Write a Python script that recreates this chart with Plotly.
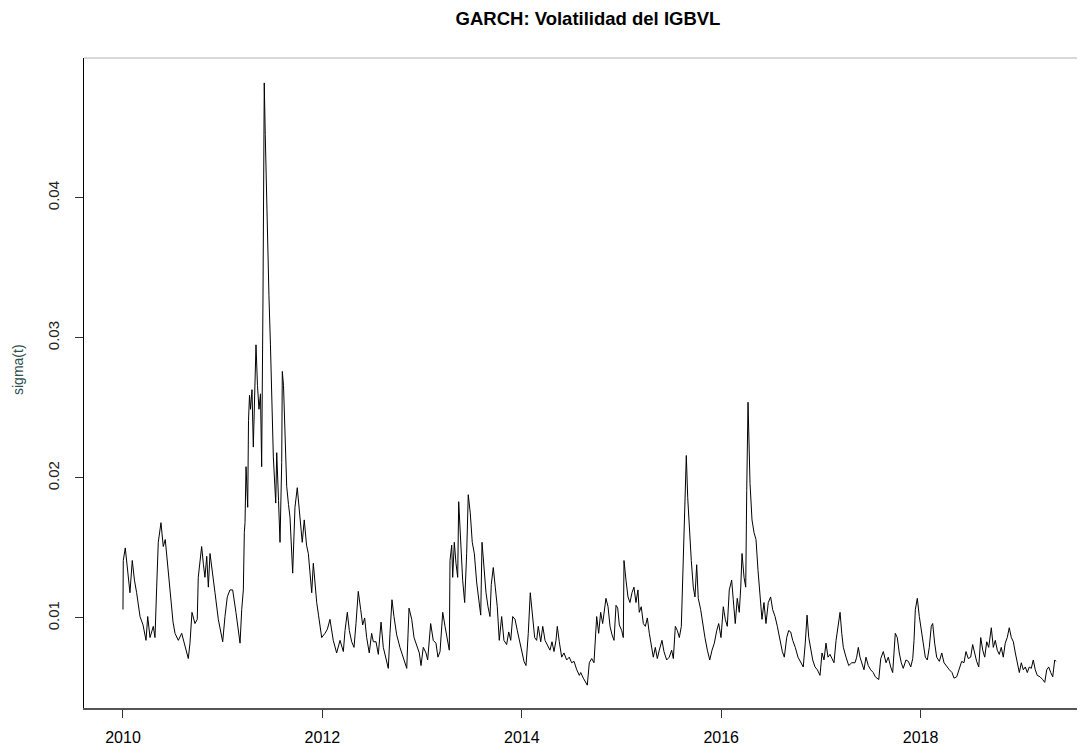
import plotly.graph_objects as go

# Time index (decimal years) and conditional volatility sigma(t)
years = [
    2010.000, 2010.003, 2010.023, 2010.050, 2010.070, 2010.093, 2010.115, 2010.137, 2010.171, 2010.201,
    2010.231, 2010.248, 2010.271, 2010.304, 2010.321, 2010.338, 2010.354, 2010.381, 2010.404, 2010.424,
    2010.444, 2010.461, 2010.481, 2010.502, 2010.522, 2010.555, 2010.589, 2010.622, 2010.655, 2010.672,
    2010.692, 2010.722, 2010.745, 2010.755, 2010.789, 2010.807, 2010.822, 2010.840, 2010.856, 2010.873,
    2010.900, 2010.923, 2010.956, 2011.000, 2011.023, 2011.046, 2011.073, 2011.100, 2011.133, 2011.174,
    2011.191, 2011.207, 2011.217, 2011.224, 2011.234, 2011.251, 2011.259, 2011.269, 2011.279, 2011.294,
    2011.307, 2011.319, 2011.334, 2011.349, 2011.364, 2011.379, 2011.391, 2011.404, 2011.417, 2011.427,
    2011.439, 2011.449, 2011.464, 2011.479, 2011.491, 2011.508, 2011.532, 2011.542, 2011.560, 2011.575,
    2011.592, 2011.598, 2011.610, 2011.625, 2011.642, 2011.660, 2011.675, 2011.702, 2011.715, 2011.725,
    2011.748, 2011.770, 2011.798, 2011.818, 2011.841, 2011.859, 2011.876, 2011.893, 2011.909, 2011.926,
    2011.943, 2011.961, 2011.976, 2011.993, 2012.026, 2012.050,
    2012.076, 2012.109, 2012.143, 2012.177, 2012.210, 2012.227, 2012.250, 2012.270, 2012.294, 2012.317,
    2012.337, 2012.360, 2012.384, 2012.404, 2012.424, 2012.444, 2012.470, 2012.494, 2012.511, 2012.538,
    2012.561, 2012.588, 2012.611, 2012.638, 2012.661, 2012.678, 2012.698, 2012.718, 2012.745, 2012.778,
    2012.811, 2012.846, 2012.869, 2012.896, 2012.919, 2012.946, 2012.972, 2012.989, 2013.012, 2013.039,
    2013.056, 2013.086, 2013.112, 2013.139, 2013.159, 2013.180, 2013.207, 2013.230, 2013.253, 2013.273,
    2013.280, 2013.297, 2013.307, 2013.323, 2013.340, 2013.357, 2013.367, 2013.387, 2013.407, 2013.427,
    2013.447, 2013.463, 2013.483, 2013.503, 2013.524, 2013.548, 2013.568, 2013.588, 2013.601, 2013.621,
    2013.641, 2013.661, 2013.681, 2013.694, 2013.714, 2013.734, 2013.754, 2013.774, 2013.798, 2013.821,
    2013.848, 2013.869, 2013.889, 2013.909, 2013.932, 2013.955, 2013.975, 2013.999, 2014.022, 2014.042,
    2014.065, 2014.085, 2014.105, 2014.129, 2014.149, 2014.165, 2014.190, 2014.210, 2014.233, 2014.256,
    2014.283, 2014.303, 2014.323, 2014.343, 2014.356, 2014.376, 2014.400, 2014.423, 2014.450, 2014.476,
    2014.500, 2014.524, 2014.551, 2014.577,
    2014.591, 2014.617, 2014.644, 2014.657, 2014.677, 2014.701, 2014.724, 2014.737, 2014.751, 2014.771,
    2014.791, 2014.811, 2014.831, 2014.844, 2014.865, 2014.885, 2014.905, 2014.925, 2014.945, 2014.962,
    2014.978, 2015.002, 2015.018, 2015.025, 2015.045, 2015.065, 2015.085, 2015.105, 2015.125, 2015.145,
    2015.165, 2015.178, 2015.198, 2015.219, 2015.239, 2015.259, 2015.279, 2015.299, 2015.319, 2015.339,
    2015.359, 2015.379, 2015.406, 2015.426, 2015.453, 2015.479, 2015.503, 2015.520, 2015.540, 2015.560,
    2015.580, 2015.600, 2015.614, 2015.627, 2015.640, 2015.650, 2015.664, 2015.680, 2015.700, 2015.720,
    2015.737, 2015.754, 2015.770, 2015.794, 2015.814, 2015.837, 2015.861, 2015.885, 2015.908, 2015.931,
    2015.955, 2015.975, 2015.998, 2016.021, 2016.041, 2016.061, 2016.081, 2016.105, 2016.121, 2016.141,
    2016.161, 2016.181, 2016.196, 2016.209, 2016.229, 2016.246, 2016.256, 2016.269, 2016.289, 2016.309,
    2016.329, 2016.349, 2016.369, 2016.389, 2016.409, 2016.429, 2016.449, 2016.472, 2016.496, 2016.516,
    2016.540, 2016.563, 2016.590, 2016.613, 2016.633, 2016.657, 2016.677, 2016.697, 2016.717, 2016.743,
    2016.770, 2016.797, 2016.823, 2016.843, 2016.861, 2016.878,
    2016.898, 2016.918, 2016.941, 2016.964, 2016.991, 2017.011, 2017.031, 2017.051, 2017.071, 2017.091,
    2017.111, 2017.131, 2017.152, 2017.172, 2017.192, 2017.209, 2017.225, 2017.252, 2017.279, 2017.309,
    2017.342, 2017.359, 2017.375, 2017.392, 2017.412, 2017.432, 2017.452, 2017.475, 2017.499, 2017.525,
    2017.545, 2017.580, 2017.600, 2017.626, 2017.653, 2017.676, 2017.700, 2017.720, 2017.746, 2017.766,
    2017.786, 2017.806, 2017.826, 2017.853, 2017.877, 2017.901, 2017.921, 2017.934, 2017.947, 2017.967,
    2017.987, 2018.007, 2018.027, 2018.047, 2018.067, 2018.087, 2018.107, 2018.121, 2018.141, 2018.161,
    2018.188, 2018.212, 2018.235, 2018.262, 2018.288, 2018.315, 2018.335, 2018.362, 2018.388, 2018.412,
    2018.435, 2018.455, 2018.478, 2018.502, 2018.522, 2018.542, 2018.562, 2018.583, 2018.603, 2018.623,
    2018.643, 2018.663, 2018.683, 2018.709, 2018.729, 2018.749, 2018.769, 2018.789, 2018.809, 2018.829,
    2018.849, 2018.869, 2018.889, 2018.910, 2018.930, 2018.950, 2018.970, 2018.990, 2019.010, 2019.030,
    2019.050, 2019.070, 2019.090, 2019.110, 2019.130, 2019.150, 2019.170, 2019.198, 2019.224, 2019.245,
    2019.265, 2019.285, 2019.305, 2019.325, 2019.345, 2019.358,
]

sigma = [
    0.0106, 0.0141, 0.0150, 0.0131, 0.0118, 0.0141, 0.0127, 0.0118, 0.0101, 0.0095,
    0.0084, 0.0101, 0.0086, 0.0094, 0.0086, 0.0122, 0.0154, 0.0168, 0.0151, 0.0156,
    0.0141, 0.0124, 0.0108, 0.0097, 0.0089, 0.0084, 0.0089, 0.0079, 0.0071, 0.0082,
    0.0104, 0.0096, 0.0099, 0.0129, 0.0151, 0.0138, 0.0129, 0.0144, 0.0122, 0.0146,
    0.0129, 0.0118, 0.0099, 0.0083, 0.0101, 0.0115, 0.0120, 0.0120, 0.0104, 0.0082,
    0.0106, 0.0120, 0.0161, 0.0168, 0.0208, 0.0179, 0.0241, 0.0259, 0.0249, 0.0263,
    0.0222, 0.0256, 0.0295, 0.0266, 0.0249, 0.0260, 0.0208, 0.0327, 0.0482, 0.0445,
    0.0400, 0.0360, 0.0330, 0.0295, 0.0256, 0.0215, 0.0182, 0.0218, 0.0184, 0.0154,
    0.0211, 0.0276, 0.0266, 0.0236, 0.0194, 0.0181, 0.0172, 0.0132, 0.0156, 0.0179,
    0.0193, 0.0177, 0.0154, 0.0170, 0.0152, 0.0146, 0.0131, 0.0118, 0.0139, 0.0124,
    0.0111, 0.0102, 0.0094, 0.0086, 0.0089, 0.0092,
    0.0099, 0.0084, 0.0075, 0.0084, 0.0076, 0.0091, 0.0104, 0.0091, 0.0083, 0.0079,
    0.0096, 0.0119, 0.0106, 0.0095, 0.0100, 0.0086, 0.0075, 0.0089, 0.0083, 0.0083,
    0.0074, 0.0097, 0.0079, 0.0072, 0.0064, 0.0089, 0.0113, 0.0101, 0.0088, 0.0079,
    0.0071, 0.0064, 0.0107, 0.0099, 0.0086, 0.0081, 0.0075, 0.0066, 0.0079, 0.0075,
    0.0070, 0.0096, 0.0084, 0.0082, 0.0072, 0.0076, 0.0104, 0.0094, 0.0084, 0.0077,
    0.0141, 0.0152, 0.0129, 0.0154, 0.0139, 0.0129, 0.0183, 0.0151, 0.0127, 0.0111,
    0.0146, 0.0188, 0.0175, 0.0154, 0.0146, 0.0125, 0.0111, 0.0102, 0.0154, 0.0134,
    0.0118, 0.0108, 0.0101, 0.0124, 0.0136, 0.0122, 0.0108, 0.0084, 0.0101, 0.0084,
    0.0081, 0.0090, 0.0084, 0.0101, 0.0099, 0.0091, 0.0084, 0.0077, 0.0069, 0.0066,
    0.0089, 0.0118, 0.0104, 0.0086, 0.0084, 0.0094, 0.0083, 0.0094, 0.0084, 0.0081,
    0.0077, 0.0083, 0.0076, 0.0084, 0.0094, 0.0083, 0.0072, 0.0075, 0.0070, 0.0072,
    0.0068, 0.0069, 0.0063, 0.0059,
    0.0061, 0.0057, 0.0054, 0.0052, 0.0068, 0.0071, 0.0068, 0.0089, 0.0101, 0.0089,
    0.0104, 0.0096, 0.0106, 0.0114, 0.0108, 0.0094, 0.0088, 0.0084, 0.0109, 0.0107,
    0.0095, 0.0091, 0.0086, 0.0141, 0.0127, 0.0115, 0.0111, 0.0118, 0.0122, 0.0111,
    0.0120, 0.0104, 0.0108, 0.0096, 0.0094, 0.0100, 0.0089, 0.0079, 0.0072, 0.0079,
    0.0071, 0.0077, 0.0084, 0.0076, 0.0070, 0.0072, 0.0077, 0.0071, 0.0094, 0.0091,
    0.0086, 0.0094, 0.0129, 0.0168, 0.0199, 0.0216, 0.0186, 0.0163, 0.0141, 0.0122,
    0.0115, 0.0138, 0.0114, 0.0106, 0.0096, 0.0086, 0.0077, 0.0070, 0.0077, 0.0082,
    0.0091, 0.0096, 0.0086, 0.0108, 0.0099, 0.0094, 0.0120, 0.0127, 0.0113, 0.0096,
    0.0114, 0.0104, 0.0122, 0.0146, 0.0129, 0.0122, 0.0191, 0.0254, 0.0196, 0.0170,
    0.0161, 0.0156, 0.0134, 0.0118, 0.0099, 0.0111, 0.0096, 0.0111, 0.0115, 0.0106,
    0.0101, 0.0094, 0.0084, 0.0076, 0.0072, 0.0086, 0.0091, 0.0090, 0.0084, 0.0079,
    0.0072, 0.0068, 0.0065, 0.0082, 0.0102, 0.0086,
    0.0077, 0.0070, 0.0065, 0.0063, 0.0059, 0.0075, 0.0070, 0.0082, 0.0072, 0.0074,
    0.0071, 0.0068, 0.0084, 0.0096, 0.0104, 0.0089, 0.0079, 0.0072, 0.0066, 0.0068,
    0.0068, 0.0072, 0.0079, 0.0072, 0.0068, 0.0063, 0.0072, 0.0066, 0.0063, 0.0061,
    0.0058, 0.0056, 0.0071, 0.0076, 0.0068, 0.0072, 0.0065, 0.0061, 0.0089, 0.0086,
    0.0075, 0.0068, 0.0064, 0.0070, 0.0069, 0.0065, 0.0071, 0.0084, 0.0106, 0.0114,
    0.0101, 0.0091, 0.0081, 0.0072, 0.0070, 0.0079, 0.0094, 0.0096, 0.0082, 0.0072,
    0.0069, 0.0075, 0.0068, 0.0065, 0.0063, 0.0061, 0.0057, 0.0058, 0.0063, 0.0069,
    0.0068, 0.0076, 0.0071, 0.0072, 0.0081, 0.0075, 0.0069, 0.0065, 0.0086, 0.0077,
    0.0072, 0.0083, 0.0079, 0.0093, 0.0079, 0.0084, 0.0077, 0.0074, 0.0079, 0.0072,
    0.0082, 0.0086, 0.0093, 0.0086, 0.0083, 0.0075, 0.0068, 0.0061, 0.0068, 0.0063,
    0.0065, 0.0061, 0.0065, 0.0064, 0.0070, 0.0063, 0.0059, 0.0058, 0.0056, 0.0054,
    0.0063, 0.0065, 0.0061, 0.0058, 0.0070, 0.0069,
]

x_ticks = [2010, 2012, 2014, 2016, 2018]
x_tick_labels = ["2010", "2012", "2014", "2016", "2018"]
y_ticks = [0.01, 0.02, 0.03, 0.04]
y_tick_labels = ["0.01", "0.02", "0.03", "0.04"]

title_text = "GARCH: Volatilidad del IGBVL"
y_title = "sigma(t)"

fig = go.Figure()
fig.add_trace(go.Scatter(
    x=years, y=sigma, mode="lines",
    line=dict(color="black", width=1),
    showlegend=False, hoverinfo="skip",
))

font_family = "Liberation Sans, Arial, sans-serif"

# The page body adds an 8 px offset; margins compensate for it.
fig.update_layout(
    width=1085, height=747,
    margin=dict(l=76, r=0, t=50, b=47, autoexpand=False),
    paper_bgcolor="white", plot_bgcolor="white",
    title=dict(
        text="<b>" + title_text + "</b>",
        x=580 / 1085, xref="container", xanchor="center",
        y=1 - 11 / 747, yref="container", yanchor="middle",
        font=dict(family=font_family, size=18.5, color="black"),
    ),
    xaxis=dict(
        range=[2009.609, 2019.729],
        tickmode="array", tickvals=x_ticks, ticktext=x_tick_labels,
        ticks="outside", ticklen=8, tickcolor="#333", tickwidth=1,
        showgrid=False, zeroline=False, automargin=False,
        showline=True, linecolor="#555", linewidth=2,
        tickfont=dict(family=font_family, size=16, color="black"),
        ticklabelstandoff=6,
    ),
    yaxis=dict(
        range=[0.00357, 0.04998],
        tickmode="array", tickvals=y_ticks, ticktext=y_tick_labels,
        ticks="outside", ticklen=8, tickcolor="#333", tickwidth=1,
        tickangle=-90,
        showgrid=False, zeroline=False, automargin=False,
        showline=True, linecolor="black", linewidth=1,
        tickfont=dict(family=font_family, size=15, color="#222"),
        ticklabelstandoff=10,
    ),
    annotations=[dict(
        text=y_title, xref="paper", yref="paper",
        x=(18 - 84) / 1009, y=(708 - 370) / 650,
        xanchor="center", yanchor="middle", textangle=-90, showarrow=False,
        font=dict(family=font_family, size=14, color="#2f4f4f"),
    )],
    shapes=[dict(type="line", xref="paper", yref="paper", x0=0, x1=1, y0=1, y1=1,
                 line=dict(color="#d8d8d8", width=2))],
)

fig.write_html("out.html")
